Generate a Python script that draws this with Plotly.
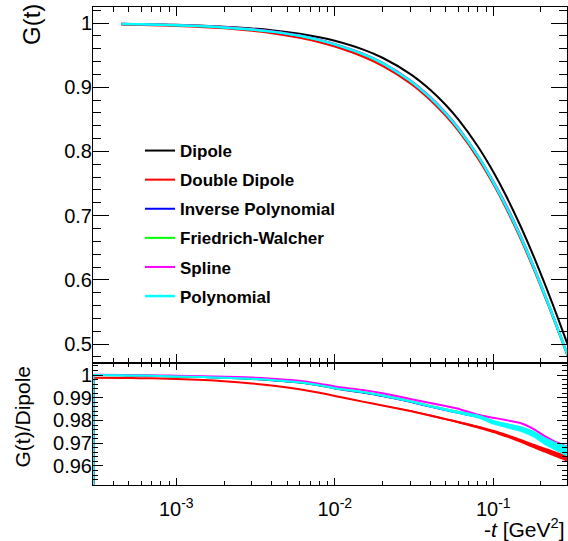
import math
import plotly.graph_objects as go

# ---------------- data ----------------
t_top = [0.00045, 0.0006, 0.0008, 0.001, 0.0015, 0.002, 0.003, 0.004, 0.006, 0.008,
         0.01, 0.015, 0.02, 0.03, 0.04, 0.05, 0.06, 0.08, 0.1, 0.12, 0.15, 0.18,
         0.21, 0.24, 0.27, 0.3]

G_dipole = [0.99873, 0.99831, 0.99775, 0.99719, 0.99579, 0.99439, 0.99160, 0.98883, 0.98331, 0.97786,
            0.97241, 0.95905, 0.94596, 0.92056, 0.89618, 0.87275, 0.85023, 0.80772, 0.76833, 0.73174,
            0.68158, 0.63641, 0.59558, 0.55856, 0.52488, 0.49417]
G_double = [0.99743, 0.99691, 0.99625, 0.99549, 0.99360, 0.99171, 0.98793, 0.98428, 0.97712, 0.97023,
            0.96346, 0.94783, 0.93328, 0.90602, 0.88023, 0.85582, 0.83263, 0.78922, 0.74928, 0.71228,
            0.66181, 0.61655, 0.57593, 0.53929, 0.50609, 0.47589]
G_invpoly = [0.99863, 0.99811, 0.99735, 0.99659, 0.99489, 0.99320, 0.98991, 0.98656, 0.98007, 0.97336,
             0.96667, 0.95167, 0.93726, 0.90970, 0.88372, 0.85931, 0.83612, 0.79286, 0.75220, 0.71535,
             0.66522, 0.61974, 0.57819, 0.54113, 0.50772, 0.47737]
G_fw = [0.99863, 0.99811, 0.99735, 0.99659, 0.99489, 0.99320, 0.99001, 0.98665, 0.98016, 0.97346,
        0.96677, 0.95186, 0.93745, 0.90997, 0.88399, 0.85966, 0.83646, 0.79326, 0.75266, 0.71586,
        0.66577, 0.62025, 0.57861, 0.54147, 0.50798, 0.47757]
G_spline = [0.99873, 0.99821, 0.99755, 0.99689, 0.99529, 0.99369, 0.99051, 0.98725, 0.98085, 0.97414,
            0.96755, 0.95272, 0.93839, 0.91089, 0.88516, 0.86088, 0.83765, 0.79360, 0.75388, 0.71798,
            0.66713, 0.62126, 0.57962, 0.54237, 0.50887, 0.47850]
G_poly = [0.99863, 0.99811, 0.99735, 0.99659, 0.99489, 0.99320, 0.99001, 0.98665, 0.98016, 0.97346,
          0.96677, 0.95186, 0.93745, 0.90988, 0.88390, 0.85948, 0.83629, 0.79302, 0.75235, 0.71550,
          0.66536, 0.61986, 0.57831, 0.54124, 0.50782, 0.47747]

# ratio histograms (first bin empty)
t_ratio = [0.0003, 0.0003, 0.00045, 0.0006, 0.0008, 0.001, 0.0015, 0.002, 0.003, 0.004, 0.006,
           0.008, 0.01, 0.015, 0.02, 0.03, 0.04, 0.05, 0.06, 0.08, 0.1, 0.12, 0.15, 0.18,
           0.21, 0.24, 0.27, 0.3]
r_double = [0.0, 0.9988, 0.9987, 0.9986, 0.9985, 0.9983, 0.9978, 0.9973, 0.9963, 0.9954, 0.9937,
            0.9922, 0.9908, 0.9883, 0.9866, 0.9842, 0.9822, 0.9806, 0.9793, 0.9771, 0.9752,
            0.9734, 0.9710, 0.9688, 0.9670, 0.9655, 0.9642, 0.9630]
r_invpoly = [0.0, 1.0000, 0.9999, 0.9998, 0.9996, 0.9994, 0.9991, 0.9988, 0.9983, 0.9977, 0.9967,
             0.9954, 0.9941, 0.9923, 0.9908, 0.9882, 0.9861, 0.9846, 0.9834, 0.9816, 0.9790,
             0.9776, 0.9760, 0.9738, 0.9708, 0.9688, 0.9673, 0.9660]
r_fw = [0.0, 1.0000, 0.9999, 0.9998, 0.9996, 0.9994, 0.9991, 0.9988, 0.9984, 0.9978, 0.9968,
        0.9955, 0.9942, 0.9925, 0.9910, 0.9885, 0.9864, 0.9850, 0.9838, 0.9821, 0.9796,
        0.9783, 0.9768, 0.9746, 0.9715, 0.9694, 0.9678, 0.9664]
r_spline = [0.0, 1.0001, 1.0000, 0.9999, 0.9998, 0.9997, 0.9995, 0.9993, 0.9989, 0.9984, 0.9975,
            0.9962, 0.9950, 0.9934, 0.9920, 0.9895, 0.9877, 0.9864, 0.9852, 0.9825, 0.9812,
            0.9802, 0.9788, 0.9762, 0.9732, 0.9710, 0.9695, 0.9683]
r_poly = [0.0, 1.0000, 0.9999, 0.9998, 0.9996, 0.9994, 0.9991, 0.9988, 0.9984, 0.9978, 0.9968,
          0.9955, 0.9942, 0.9925, 0.9910, 0.9884, 0.9863, 0.9848, 0.9836, 0.9818, 0.9792,
          0.9778, 0.9762, 0.9740, 0.9710, 0.9690, 0.9675, 0.9662]
# bin uncertainties (half widths) for t_ratio[1:]
err_double = [0, 0, 0, 0, 0, 0, 0, 0, 0, 0.0001, 0.0001, 0.0001, 0.0002, 0.0002, 0.0003, 0.0004,
              0.0004, 0.0005, 0.0006, 0.0007, 0.0008, 0.0009, 0.0010, 0.0011, 0.0012, 0.0013, 0.0014]
err_poly = [0, 0, 0, 0, 0, 0, 0, 0, 0, 0.0001, 0.0001, 0.0001, 0.0002, 0.0003, 0.0004, 0.0005,
            0.0006, 0.0007, 0.0008, 0.0010, 0.0011, 0.0013, 0.0015, 0.0017, 0.0019, 0.0021, 0.0023]

names = ["Dipole", "Double Dipole", "Inverse Polynomial", "Friedrich-Walcher", "Spline", "Polynomial"]
colors = ["#000000", "#ff0000", "#0000ff", "#00ff00", "#ff00ff", "#00ffff"]
tick_labels_x = ["10<sup>-3</sup>", "10<sup>-2</sup>", "10<sup>-1</sup>"]
tick_vals_x = [1e-3, 1e-2, 1e-1]

FONT = "Liberation Sans, Arial, Helvetica, sans-serif"

fig = go.Figure()

# top panel
top_series = [G_dipole, G_double, G_invpoly, G_fw, G_spline, G_poly]
widths = [2, 2, 2, 2, 2, 2.5]
for i, (nm, col, ys) in enumerate(zip(names, colors, top_series)):
    fig.add_trace(go.Scatter(x=t_top, y=ys, mode="lines", name=nm, legendgroup=nm,
                             line=dict(color=col, width=widths[i], shape="spline", smoothing=0.6),
                             xaxis="x", yaxis="y", showlegend=True))

# bottom panel: bands + lines
tb = t_ratio[1:]
def band(r, e):
    r = r[1:]
    up = [a + b for a, b in zip(r, e)]
    lo = [a - b for a, b in zip(r, e)]
    return tb + tb[::-1], up + lo[::-1]

def ratio_line(r, col):
    # edge of the empty first bin
    fig.add_trace(go.Scatter(x=t_ratio[:2], y=r[:2], mode="lines", line=dict(color=col, width=2),
                             xaxis="x2", yaxis="y2", showlegend=False, hoverinfo="skip"))
    fig.add_trace(go.Scatter(x=t_ratio[1:], y=r[1:], mode="lines",
                             line=dict(color=col, width=2, shape="spline", smoothing=0.5),
                             xaxis="x2", yaxis="y2", showlegend=False))

bx, by = band(r_double, err_double)
fig.add_trace(go.Scatter(x=bx, y=by, fill="toself", mode="lines",
                         line=dict(width=0, color="#ff0000", shape="spline", smoothing=0.5),
                         fillcolor="#ff0000", xaxis="x2", yaxis="y2", showlegend=False, hoverinfo="skip"))
ratio_line(r_double, "#ff0000")
for r, col in [(r_invpoly, "#0000ff"), (r_fw, "#00ff00"), (r_spline, "#ff00ff")]:
    ratio_line(r, col)
bx, by = band(r_poly, err_poly)
fig.add_trace(go.Scatter(x=bx, y=by, fill="toself", mode="lines",
                         line=dict(width=0, color="#00ffff", shape="spline", smoothing=0.5),
                         fillcolor="#00ffff", xaxis="x2", yaxis="y2", showlegend=False, hoverinfo="skip"))
ratio_line(r_poly, "#00ffff")

# ---------------- layout ----------------
W, H = 568, 541
ml, mr, mt, mb = 93, 1, 7, 56
ph = H - mt - mb
split = (485 - 363) / ph

xr = [math.log10(2.98e-4), math.log10(0.292)]
minor_x = [k * 10 ** e for e in (-4, -3, -2, -1) for k in range(2, 10)]
minor_x = [v for v in minor_x if 2.98e-4 <= v <= 0.292]

tickfont = dict(family=FONT, size=20, color="black")

def xaxis(show_labels, major, minor, anchor):
    return dict(type="log", range=xr, tickmode="array", tickvals=tick_vals_x, ticktext=tick_labels_x,
                showticklabels=show_labels, ticks="inside", ticklen=major, tickwidth=1, tickcolor="black",
                ticklabelstandoff=6,
                minor=dict(tickmode="array", tickvals=minor_x, ticks="inside", ticklen=minor,
                           tickcolor="black", tickwidth=1, showgrid=False),
                showline=True, linecolor="black", linewidth=1, mirror="allticks",
                showgrid=False, zeroline=False, tickfont=tickfont, anchor=anchor, domain=[0, 1])

top_yvals = [0.5, 0.6, 0.7, 0.8, 0.9, 1.0]
top_ytext = ["0.5", "0.6", "0.7", "0.8", "0.9", "1"]
top_minor = [round(0.48 + 0.02 * k, 2) for k in range(28)]
top_minor = [v for v in top_minor if round(v * 10, 6) != round(v * 10)]

bot_yvals = [0.96, 0.97, 0.98, 0.99, 1.0]
bot_ytext = ["0.96", "0.97", "0.98", "0.99", "1"]
bot_minor = [round(0.952 + 0.002 * k, 3) for k in range(27)]
bot_minor = [v for v in bot_minor if abs(v * 100 - round(v * 100)) > 1e-6]

def yaxis(rng, vals, text, minor_vals, major, minor, dom, anchor):
    return dict(range=rng, tickmode="array", tickvals=vals, ticktext=text,
                ticks="inside", ticklen=major, tickwidth=1, tickcolor="black",
                ticklabelstandoff=-4,
                minor=dict(tickmode="array", tickvals=minor_vals, ticks="inside", ticklen=minor,
                           tickcolor="black", tickwidth=1, showgrid=False),
                showline=True, linecolor="black", linewidth=1, mirror="allticks",
                showgrid=False, zeroline=False, tickfont=tickfont, domain=dom, anchor=anchor)

fig.update_layout(
    width=W, height=H,
    margin=dict(l=ml, r=mr, t=mt, b=mb),
    paper_bgcolor="white", plot_bgcolor="white",
    xaxis=xaxis(False, 9, 5, "y"),
    yaxis=yaxis([0.4705, 1.025], top_yvals, top_ytext, top_minor, 16, 8, [split, 1], "x"),
    xaxis2=xaxis(True, 7, 4, "y2"),
    yaxis2=yaxis([0.9516, 1.0053], bot_yvals, bot_ytext, bot_minor, 10, 5, [0, split], "x2"),
    legend=dict(x=(140 - ml) / 474, y=(485 - 133) / ph, xanchor="left", yanchor="top",
                bgcolor="rgba(0,0,0,0)", borderwidth=0, tracegroupgap=4,
                font=dict(family=FONT, size=17, color="black", weight="bold")),
    showlegend=True,
    annotations=[
        dict(text="G(t)", xref="paper", yref="paper", x=(32 - ml) / 474, y=(485 - 24) / ph,
             textangle=-90, showarrow=False, xanchor="center", yanchor="middle",
             font=dict(family=FONT, size=24, color="black")),
        dict(text="G(t)/Dipole", xref="paper", yref="paper", x=(22 - ml) / 474, y=(485 - 416.5) / ph,
             textangle=-90, showarrow=False, xanchor="center", yanchor="middle",
             font=dict(family=FONT, size=21, color="black")),
        dict(text="-<i>t</i> [GeV<sup>2</sup>]", xref="paper", yref="paper", x=(567 - ml) / 474,
             y=(485 - 528) / ph, showarrow=False, xanchor="right", yanchor="middle",
             font=dict(family=FONT, size=21, color="black")),
    ],
)

fig.write_html("out.html")
